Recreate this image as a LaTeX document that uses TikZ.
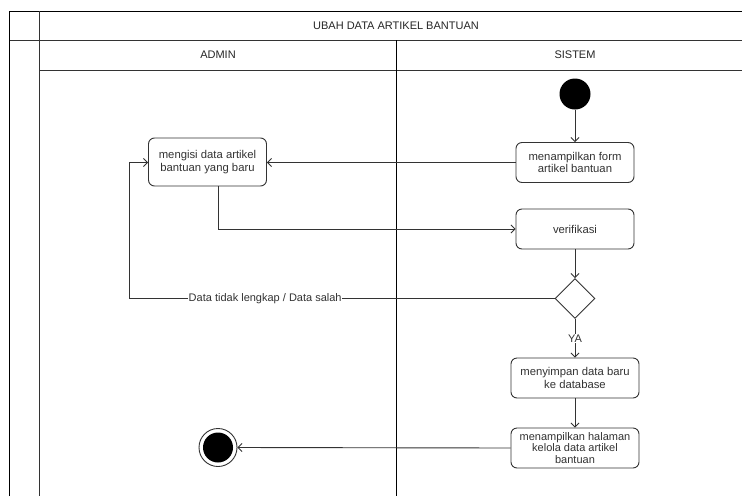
\documentclass[tikz,border=0pt]{standalone}
\usepackage{fontspec}
\setmainfont{Liberation Sans}
\usetikzlibrary{arrows.meta,shapes.geometric}
\begin{document}
\begin{tikzpicture}[x=1pt,y=-1pt,
  frame/.style={line width=1pt,draw=black!80},
  act/.style={draw=black!80,line width=0.9pt,rounded corners=6pt,fill=white,
    minimum width=118pt,minimum height=40pt,align=center,inner sep=1pt,
    font=\fontsize{11.3}{12.5}\selectfont,text=black!80},
  flow/.style={draw=black!80,line width=0.9pt,-{Straight Barb[length=4pt,width=8pt]}},
  lbl/.style={fill=white,inner sep=0.5pt,font=\fontsize{11}{12}\selectfont,text=black!80},
  hdr/.style={font=\fontsize{11}{13}\selectfont,text=black!85}]
\useasboundingbox[fill=white] (0,0) rectangle (742,496);

% swimlane frame
\draw[frame,draw=black] (9.5,496) -- (9.5,11) -- (742,11);
\draw[frame] (39,11) -- (39,496);
\draw[frame] (9.5,40) -- (742,40);
\draw[frame] (39,70) -- (742,70);
\draw[frame,draw=black] (396,40) -- (396,496);
\node[hdr] (title) at (396,25.5) {UBAH DATA ARTIKEL BANTUAN};
\node[hdr] (laneA) at (218,55) {ADMIN};
\node[hdr] (laneS) at (575,55) {SISTEM};

% activity nodes
\node[circle,fill=black,minimum size=31pt,inner sep=0pt] (start) at (575,94) {};
\node[act] (form) at (575,162.5) {menampilkan form\\artikel bantuan};
\node[act,minimum height=48pt] (isi) at (207.5,162) {mengisi data artikel\\bantuan yang baru};
\node[act] (verif) at (575,229) {verifikasi};
\node[diamond,draw=black!80,line width=0.9pt,fill=white,minimum width=40pt,minimum height=40pt,inner sep=0pt] (cek) at (575,298.5) {};
\node[act,minimum width=128pt] (simpan) at (575,378) {menyimpan data baru\\ke database};
\node[act,minimum width=128pt,font=\fontsize{11}{11.5}\selectfont] (tampil) at (575,448) {menampilkan halaman\\kelola data artikel\\bantuan};
\node[circle,draw=black!80,line width=0.9pt,fill=white,minimum size=38pt,inner sep=0pt] (end) at (218,447.5) {};
\node[circle,fill=black,minimum size=30pt,inner sep=0pt] (endin) at (end.center) {};

% transitions
\draw[flow] (start) -- (form);
\draw[flow] (form.west) -- (isi.east |- form.west);
\draw[flow] (isi.south -| 218,0) |- (verif.west);
\draw[flow] (verif) -- (cek);
\coordinate (back) at (129,298.5);
\draw[flow] (cek.west) -- node[lbl,pos=0.68] {Data tidak lengkap / Data salah} (back) |- (isi.west |- form.west);
\draw[flow] (cek.south) -- node[lbl,pos=0.5] {YA} (simpan.north);
\draw[flow] (simpan) -- (tampil);
\draw[flow] (tampil.west) -- (end.east);
\end{tikzpicture}
\end{document}
